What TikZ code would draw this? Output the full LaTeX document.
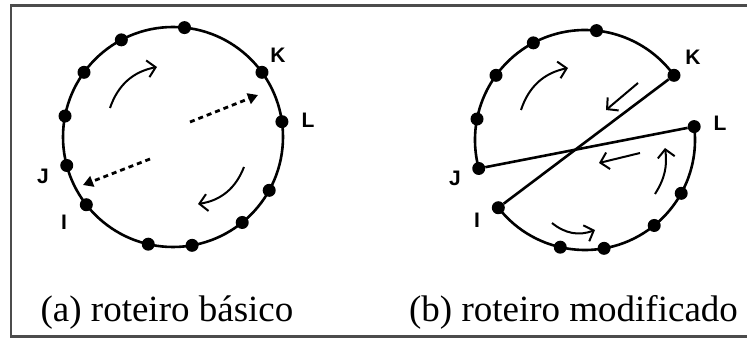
\documentclass[tikz,border=0pt]{standalone}
\usepackage{fontspec}
\setmainfont{Liberation Serif}
\newfontfamily\lblfont{Liberation Sans}
\usepackage{tikz}
\usetikzlibrary{arrows.meta, calc}

\begin{document}
\begin{tikzpicture}[x=1pt, y=1pt,
    dot/.style={circle, fill=black, inner sep=0pt, minimum size=13pt},
    ring/.style={line width=2.6pt},
    lbl/.style={font=\lblfont\bfseries\fontsize{21}{21}\selectfont, inner sep=0pt},
    flow/.style={line width=2pt, -{Straight Barb[length=8pt, width=17pt]}},
    jump/.style={line width=2.8pt, dash pattern=on 5pt off 4pt, -{Triangle[length=10pt, width=11pt]}},
    caption/.style={font=\fontsize{37}{40}\selectfont, anchor=base, inner sep=0pt}]
    \useasboundingbox (0,0) rectangle (747,340);

    % frame, open on the right
    \draw[line width=2.4pt, black!70] (760,334.5) -- (11,334.5) -- (11,3.5) -- (760,3.5);

    % (a) basic tour
    \coordinate (ca) at (173,203);
    \draw[ring] (ca) circle[radius=110];
    \foreach \ang/\name in {84/a1, 118/a2, 144/a3, 169/a4, 195/aJ, 218/aI,
                            257/a5, 280/a6, 309/a7, 331/a8, 8/aL, 36/aK}
      \node[dot] (\name) at ($(ca)+(\ang:110)$) {};
    \node[lbl] (labK) at (278,285) {K};
    \node[lbl] (labL) at (308,220) {L};
    \node[lbl] (labJ) at (43,164) {J};
    \node[lbl] (labI) at (64,118) {I};

    \coordinate (up1s) at (110,232);
    \coordinate (up1e) at (157,273);
    \coordinate (dn1s) at (244,173);
    \coordinate (dn1e) at (198,136);
    \coordinate (jp1s) at (190,218);
    \coordinate (jp1e) at (258,245);
    \coordinate (jp2s) at (150,181);
    \coordinate (jp2e) at (83,155);
    \draw[flow] (up1s) to[bend left=30] (up1e);
    \draw[flow] (dn1s) to[bend left=30] (dn1e);
    \draw[jump] (jp1s) -- (jp1e);
    \draw[jump] (jp2s) -- (jp2e);

    % (b) modified tour
    \coordinate (cb) at (585,200);
    \foreach \ang/\name in {84/b1, 118/b2, 144/b3, 169/b4, 195/bJ, 218/bI,
                            257/b5, 280/b6, 309/b7, 331/b8, 7/bL, 36/bK}
      \node[dot] (\name) at ($(cb)+(\ang:110)$) {};
    \draw[ring] (bJ.center) arc[start angle=195, end angle=36, radius=110];
    \draw[ring] (bI.center) arc[start angle=218, end angle=367, radius=110];
    \draw[ring] (bJ) -- (bL);
    \draw[ring] (bK) -- (bI);
    \node[lbl] (labK2) at (693,283) {K};
    \node[lbl] (labL2) at (720,217) {L};
    \node[lbl] (labJ2) at (455,162) {J};
    \node[lbl] (labI2) at (477,120) {I};

    \coordinate (up2s) at (521,230);
    \coordinate (up2e) at (568,272);
    \coordinate (kis) at (638,257);
    \coordinate (kie) at (606,230);
    \coordinate (ljs) at (640,187);
    \coordinate (lje) at (599,177);
    \coordinate (rts) at (655,146);
    \coordinate (rte) at (665,192);
    \coordinate (bts) at (552,117);
    \coordinate (bte) at (595,110);
    \draw[flow] (up2s) to[bend left=30] (up2e);
    \draw[flow] (kis) -- (kie);
    \draw[flow] (ljs) -- (lje);
    \draw[flow] (rts) to[bend right=20] (rte);
    \draw[flow] (bts) to[bend right=30] (bte);

    % captions
    \node[caption] (capa) at (167,18) {(a) roteiro básico};
    \node[caption] (capb) at (573.5,18) {(b) roteiro modificado};
  \end{tikzpicture}
\end{document}
